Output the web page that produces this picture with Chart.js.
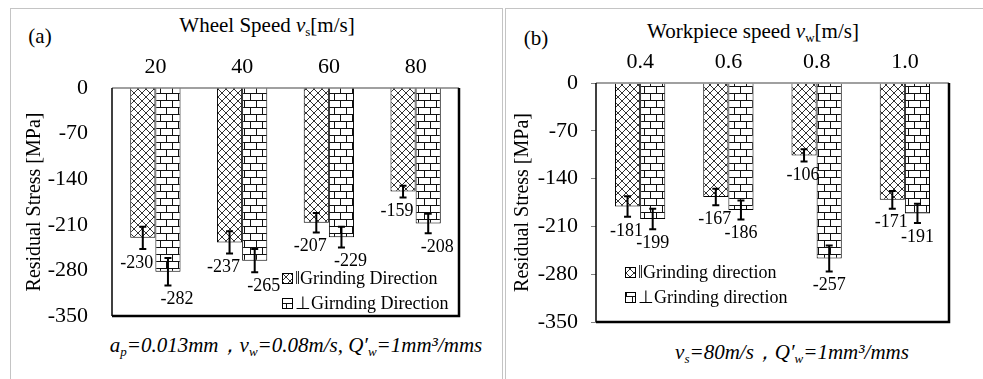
<!DOCTYPE html>
<html>
<head>
<meta charset="utf-8">
<script src="https://cdn.jsdelivr.net/npm/chart.js@4"></script>
<style>
  html, body { margin: 0; padding: 0; background: #fff; }
  body { width: 983px; height: 379px; position: relative; overflow: hidden; font-family: "Liberation Serif", Tinos, "Times New Roman", serif; color: #000; }
  .panel { position: absolute; border: 1.5px solid #c4c4c4; border-bottom: none; }
  .txt { position: absolute; white-space: nowrap; transform: translate(-50%, -50%); font-size: 21px; }
  .txt sub { font-size: 13px; vertical-align: -4px; }
  .cap { font-style: italic; }
  canvas { position: absolute; }
</style>
</head>
<body>
<div class="panel" style="left:10px;top:8px;width:491px;height:380px;"></div>
<div class="panel" style="left:505px;top:8px;width:490px;height:380px;border-right:none;"></div>

<div class="txt" style="left:40px;top:36px;font-size:21px;">(a)</div>
<div class="txt" style="left:267px;top:26px;">Wheel Speed <i>v</i><sub>s</sub>[m/s]</div>
<div class="txt cap" style="left:296px;top:345px;"><i>a</i><sub>p</sub>=0.013mm，<i>v</i><sub>w</sub>=0.08m/s, <i>Q</i>′<sub>w</sub>=1mm³/mms</div>

<div class="txt" style="left:536px;top:38px;font-size:21px;">(b)</div>
<div class="txt" style="left:753px;top:32px;">Workpiece speed <i>v</i><sub>w</sub>[m/s]</div>
<div class="txt cap" style="left:792px;top:352px;"><i>v</i><sub>s</sub>=80m/s，<i>Q</i>′<sub>w</sub>=1mm³/mms</div>

<canvas id="chartA" width="490" height="370" style="left:10px;top:9px;"></canvas>
<canvas id="chartB" width="477" height="370" style="left:506px;top:9px;"></canvas>

<script>
// (a) wheel speed
const wheelSpeeds = ['20', '40', '60', '80'];
const parA = [-230, -237, -207, -159];
const perpA = [-282, -265, -229, -208];
const parErrA = [17, 17, 15, 9];
const perpErrA = [21, 18, 16, 15];

// (b) workpiece speed
const workSpeeds = ['0.4', '0.6', '0.8', '1.0'];
const parB = [-181, -167, -106, -171];
const perpB = [-199, -186, -257, -191];
const parErrB = [15, 12, 9, 13];
const perpErrB = [15, 14, 19, 14];

const yTicks = [0, -70, -140, -210, -280, -350];

const FONT = '"Liberation Serif", Tinos, "Times New Roman", serif';

// hatch patterns
function crossPattern() {
  const c = document.createElement('canvas');
  c.width = 8; c.height = 8;
  const g = c.getContext('2d');
  g.fillStyle = '#fff'; g.fillRect(0, 0, 8, 8);
  g.strokeStyle = '#333'; g.lineWidth = 1;
  g.beginPath();
  g.moveTo(0, 0); g.lineTo(8, 8);
  g.moveTo(8, 0); g.lineTo(0, 8);
  g.stroke();
  return g.createPattern(c, 'repeat');
}

function brickPattern() {
  const c = document.createElement('canvas');
  c.width = 12; c.height = 14;
  const g = c.getContext('2d');
  g.fillStyle = '#fff'; g.fillRect(0, 0, 12, 14);
  g.strokeStyle = '#111'; g.lineWidth = 1;
  g.beginPath();
  g.moveTo(0, 0.5); g.lineTo(12, 0.5);
  g.moveTo(0, 7.5); g.lineTo(12, 7.5);
  g.moveTo(0.5, 0); g.lineTo(0.5, 7.5);
  g.moveTo(6.5, 7.5); g.lineTo(6.5, 14);
  g.stroke();
  return g.createPattern(c, 'repeat');
}

const cross = crossPattern();
const brick = brickPattern();

// frame round the plot area: grey top, black left, heavy right/bottom
const framePlugin = {
  id: 'frame',
  afterDatasetsDraw(chart) {
    const a = chart.chartArea, ctx = chart.ctx;
    ctx.save();
    ctx.strokeStyle = '#808080'; ctx.lineWidth = 1.5;
    ctx.beginPath(); ctx.moveTo(a.left, a.top); ctx.lineTo(a.right, a.top); ctx.stroke();
    ctx.strokeStyle = '#000';
    ctx.beginPath(); ctx.moveTo(a.left, a.top); ctx.lineTo(a.left, a.bottom); ctx.stroke();
    ctx.lineWidth = 2.5;
    ctx.beginPath(); ctx.moveTo(a.right, a.top); ctx.lineTo(a.right, a.bottom); ctx.lineTo(a.left, a.bottom); ctx.stroke();
    ctx.restore();
  }
};

// error bars + value labels
const errorPlugin = {
  id: 'errbars',
  afterDatasetsDraw(chart, args, opts) {
    const ctx = chart.ctx, y = chart.scales.y;
    ctx.save();
    chart.data.datasets.forEach((ds, di) => {
      const meta = chart.getDatasetMeta(di);
      meta.data.forEach((bar, i) => {
        const v = ds.data[i], e = ds.errors[i];
        const y1 = y.getPixelForValue(v + e), y2 = y.getPixelForValue(v - e);
        ctx.strokeStyle = '#000'; ctx.lineWidth = 2;
        ctx.beginPath();
        ctx.moveTo(bar.x, y1); ctx.lineTo(bar.x, y2);
        ctx.moveTo(bar.x - 3.5, y1); ctx.lineTo(bar.x + 3.5, y1);
        ctx.moveTo(bar.x - 3.5, y2); ctx.lineTo(bar.x + 3.5, y2);
        ctx.stroke();
        ctx.fillStyle = '#000';
        ctx.font = '18px ' + FONT;
        ctx.textAlign = 'center'; ctx.textBaseline = 'middle';
        ctx.fillText(String(v), bar.x + opts.dx[di], y2 + opts.dy);
      });
    });
    ctx.restore();
  }
};

// legend drawn inside the plot
const legendPlugin = {
  id: 'innerLegend',
  afterDraw(chart, args, opts) {
    const ctx = chart.ctx, a = chart.chartArea;
    ctx.save();
    chart.data.datasets.forEach((ds, di) => {
      const bx = a.left + opts.x, cy = a.top + opts.y + di * opts.gap;
      ctx.fillStyle = ds.backgroundColor;
      ctx.fillRect(bx, cy - 5, 10, 10);
      ctx.strokeStyle = '#000'; ctx.lineWidth = 1;
      ctx.strokeRect(bx + 0.5, cy - 4.5, 10, 10);
      ctx.fillStyle = '#000';
      ctx.font = '18px ' + FONT;
      ctx.textAlign = 'left'; ctx.textBaseline = 'middle';
      ctx.fillText(ds.label, bx + 13, cy + 1);
    });
    ctx.restore();
  }
};

function makeChart(id, cats, par, perp, parErr, perpErr, labels, lay) {
  return new Chart(document.getElementById(id), {
    type: 'bar',
    data: {
      labels: cats,
      datasets: [
        { label: labels[0], data: par, errors: parErr, backgroundColor: cross, borderColor: '#000', borderWidth: 1 },
        { label: labels[1], data: perp, errors: perpErr, backgroundColor: brick, borderColor: '#000', borderWidth: 1 }
      ]
    },
    options: {
      responsive: false,
      animation: false,
      devicePixelRatio: 1,
      categoryPercentage: lay.cat,
      barPercentage: 1,
      layout: { padding: { top: 0, left: 0, right: lay.right, bottom: lay.bottom } },
      plugins: {
        legend: { display: false },
        tooltip: { enabled: false },
        errbars: { dx: lay.dx, dy: 14 },
        innerLegend: { x: lay.legX, y: lay.legY, gap: 25 }
      },
      scales: {
        x: {
          position: 'top',
          grid: { display: false, drawTicks: false },
          border: { display: false },
          ticks: { color: '#000', font: { family: FONT, size: 22 }, padding: 8 },
          afterFit: s => { s.height = lay.top; }
        },
        y: {
          min: -350, max: 0,
          afterBuildTicks: s => { s.ticks = yTicks.map(v => ({ value: v })); },
          grid: lay.yTicks
            ? { display: true, drawOnChartArea: false, drawTicks: true, tickLength: 5, color: '#808080' }
            : { display: false, drawTicks: false },
          border: { display: false },
          ticks: { color: '#000', font: { family: FONT, size: 22 }, padding: lay.tickPad },
          title: {
            display: true, text: 'Residual Stress [MPa]', color: '#000',
            font: { family: FONT, size: 20 }, padding: { top: lay.titlePad, bottom: 0 }
          },
          afterFit: s => { s.width = lay.left; }
        }
      }
    },
    plugins: [framePlugin, errorPlugin, legendPlugin]
  });
}

makeChart('chartA', wheelSpeeds, parA, perpA, parErrA, perpErrA,
  ['\u2016Grinding Direction', '\u22a5Girnding Direction'],
  { left: 102, top: 79, right: 41, bottom: 63, cat: 0.58, tickPad: 24, titlePad: 13, yTicks: false, dx: [-6, 9], legX: 170, legY: 190 });

makeChart('chartB', workSpeeds, parB, perpB, parErrB, perpErrB,
  ['\u2016Grinding direction', '\u22a5Grinding direction'],
  { left: 90, top: 74, right: 34, bottom: 57, cat: 0.57, tickPad: 13, titlePad: 5, yTicks: true, dx: [-1, 0], legX: 29, legY: 189 });
</script>
</body>
</html>
